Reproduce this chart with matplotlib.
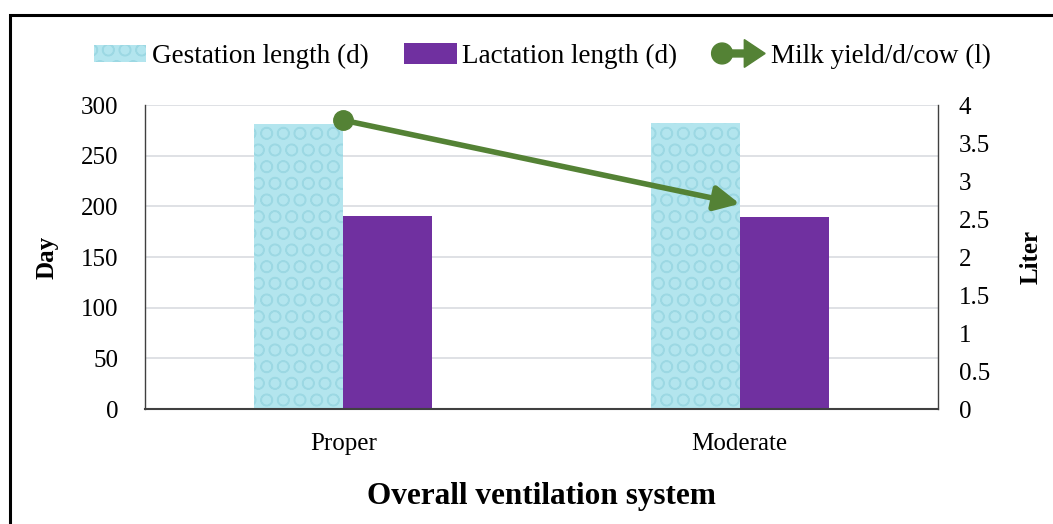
import matplotlib
matplotlib.use("Agg")
import matplotlib.pyplot as plt
import numpy as np
from matplotlib.patches import Rectangle, Circle, FancyArrow, Patch
from matplotlib.lines import Line2D
from matplotlib.legend_handler import HandlerBase

categories = ["Proper", "Moderate"]
gestation = [281, 282]
lactation = [190.5, 189]
milk = [3.8, 2.7]

plt.rcParams['font.family'] = ['Liberation Serif', 'DejaVu Serif']
plt.rcParams['hatch.linewidth'] = 1.0

GREEN = '#548235'
PURPLE = '#7030a0'
CYAN = '#b3e5ee'
CYAN_H = '#9cd8e3'

fig = plt.figure(figsize=(10.53, 5.24), dpi=100)
ax = fig.add_axes([145/1053, 1 - 409/524, (938-145)/1053, (409-105)/524])
ax2 = ax.twinx()

x = np.arange(len(categories))
w = 0.224
ax.bar(x - w/2, gestation, w, color=CYAN, edgecolor=CYAN_H, linewidth=0, hatch='O', zorder=2)
ax.bar(x + w/2, lactation, w, color=PURPLE, linewidth=0, zorder=2)

ax.set_xlim(-0.5, 1.5)
ax.set_ylim(0, 300)
ax.set_yticks(np.arange(0, 301, 50))
ax.set_xticks(x)
ax.set_xticklabels(categories, fontsize=18)
ax.tick_params(axis='y', labelsize=18, length=0, pad=19)
ax.tick_params(axis='x', length=0, pad=17)
ax.grid(axis='y', color='#dcdee3', linewidth=1.3, zorder=0)
ax.set_axisbelow(True)
ax.spines['top'].set_visible(False)
for s in ['left', 'right', 'bottom']:
    ax.spines[s].set_color('#404040')
ax.spines['bottom'].set_linewidth(1.5)
ax.spines['left'].set_linewidth(1.0)
ax.spines['right'].set_linewidth(1.0)
ax.set_ylabel('Day', fontsize=18, fontweight='bold', labelpad=16)
ax.set_xlabel('Overall ventilation system', fontsize=22.5, fontweight='bold', labelpad=20)

ax2.set_ylim(0, 4)
ax2.set_yticks([0, 0.5, 1, 1.5, 2, 2.5, 3, 3.5, 4])
ax2.set_yticklabels(['0', '0.5', '1', '1.5', '2', '2.5', '3', '3.5', '4'])
ax2.tick_params(axis='y', labelsize=18, length=0, pad=15)
for s in ['top', 'left', 'right', 'bottom']:
    ax2.spines[s].set_visible(False)
ax2.set_ylabel('Liter', fontsize=18, fontweight='bold', labelpad=21)

ax2.plot(x[:1], milk[:1], 'o', color=GREEN, markersize=14, zorder=5)
ax2.annotate('', xy=(x[1], milk[1]), xytext=(x[0], milk[0]),
             arrowprops=dict(arrowstyle='-|>,head_length=1.5,head_width=0.75',
                             color=GREEN, lw=4, shrinkA=0, shrinkB=0), zorder=4)


class ArrowHandler(HandlerBase):
    def create_artists(self, legend, orig_handle, xdescent, ydescent, width, height, fontsize, trans):
        y = height / 2 - ydescent
        arr = FancyArrow(-xdescent + 4, y, width - 4, 0, width=5, head_width=20,
                         head_length=15, length_includes_head=True,
                         color=GREEN, transform=trans)
        c = Circle((-xdescent + 7, y), 7.5, color=GREEN, transform=trans)
        return [arr, c]


class HatchHandler(HandlerBase):
    def create_artists(self, legend, orig_handle, xdescent, ydescent, width, height, fontsize, trans):
        r = Rectangle((-xdescent, -ydescent + height*0.1), width, height*0.8,
                      facecolor=CYAN, edgecolor=CYAN_H, hatch='O', linewidth=0, transform=trans)
        return [r]


h1 = Patch(facecolor=CYAN)
h2 = Patch(facecolor=PURPLE)
h3 = Line2D([0], [0], color=GREEN)
fig.legend([h1, h2, h3], ['Gestation length (d)', 'Lactation length (d)', 'Milk yield/d/cow (l)'],
           handler_map={h1: HatchHandler(), h3: ArrowHandler()},
           loc='center', bbox_to_anchor=(542/1053, 1 - 56/524), ncol=3, frameon=False,
           fontsize=19.5, handlelength=1.95, handletextpad=0.2, columnspacing=1.3,
           handleheight=0.8)

border = Rectangle((10/1053, -0.1), 1.2, 1 - 15/524 + 0.1, transform=fig.transFigure,
                   fill=False, edgecolor='black', linewidth=2.2, zorder=10)
fig.patches.append(border)

fig.savefig('out.png', dpi=100)
